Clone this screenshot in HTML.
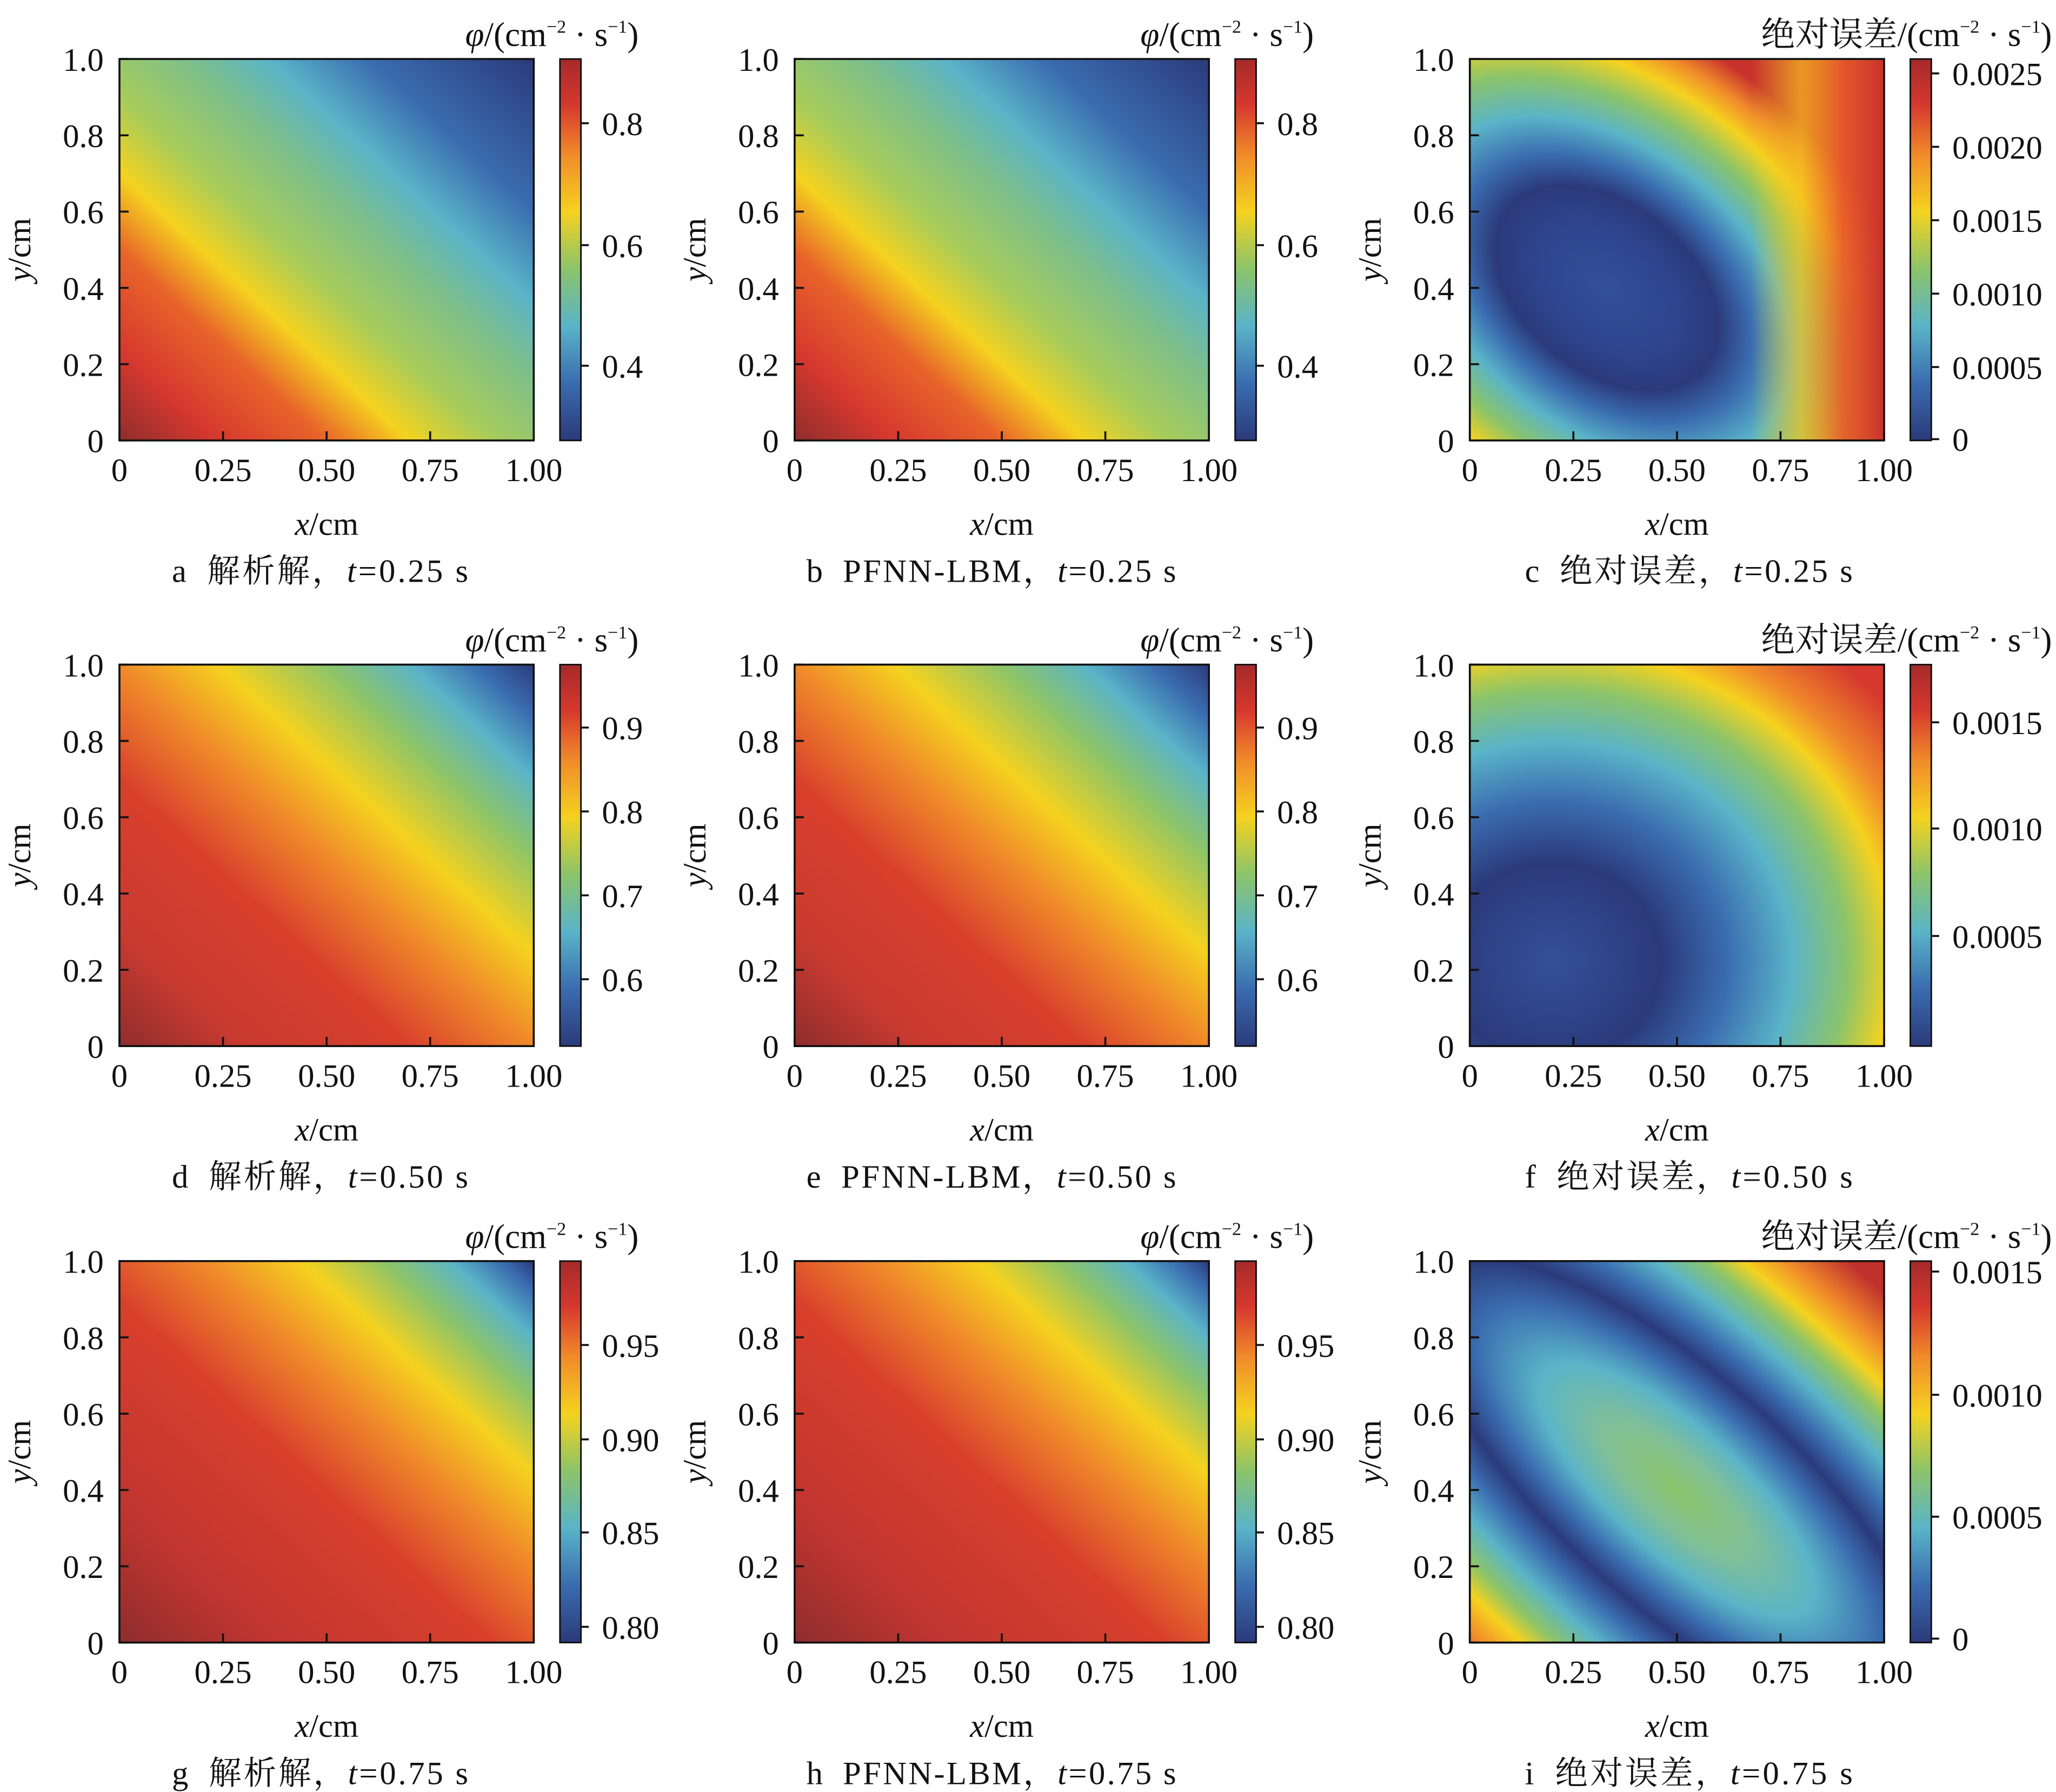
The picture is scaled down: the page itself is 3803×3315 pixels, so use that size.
<!DOCTYPE html>
<html><head><meta charset="utf-8">
<style>html,body{margin:0;padding:0;background:#fff}svg{display:block}
text{font-family:"Liberation Serif","Noto Serif CJK SC","Noto Sans CJK SC",serif;fill:#111}</style></head>
<body>
<svg id="s" xmlns="http://www.w3.org/2000/svg" width="3803" height="3315" viewBox="0 0 1568 1367">
<defs>
<linearGradient id="cb" x1="0" y1="1" x2="0" y2="0">
<stop offset="0" stop-color="#2b3a7a"/><stop offset="0.15" stop-color="#3a6cb0"/><stop offset="0.3" stop-color="#5ab4c8"/><stop offset="0.45" stop-color="#8cc46a"/><stop offset="0.6" stop-color="#f5d21f"/><stop offset="0.75" stop-color="#f08a2a"/><stop offset="0.88" stop-color="#d6382e"/><stop offset="1" stop-color="#a52a2a"/></linearGradient>
<linearGradient id="g1" x1="0" y1="1" x2="1" y2="0">
<stop offset="0" stop-color="#8e2d2d"/><stop offset="0.12" stop-color="#d6382e"/><stop offset="0.25" stop-color="#e8642a"/><stop offset="0.35" stop-color="#f5d21f"/><stop offset="0.45" stop-color="#a8cc5a"/><stop offset="0.58" stop-color="#7dbf8a"/><stop offset="0.68" stop-color="#5ab4c8"/><stop offset="0.8" stop-color="#3a6cb0"/><stop offset="1" stop-color="#2b3a7a"/></linearGradient>
<linearGradient id="g2" x1="0" y1="1" x2="1" y2="0">
<stop offset="0" stop-color="#8e2d2d"/><stop offset="0.15" stop-color="#c83a30"/><stop offset="0.35" stop-color="#d9402c"/><stop offset="0.5" stop-color="#f08a2a"/><stop offset="0.62" stop-color="#f5d21f"/><stop offset="0.75" stop-color="#8cc46a"/><stop offset="0.85" stop-color="#5ab4c8"/><stop offset="0.93" stop-color="#3a6cb0"/><stop offset="1" stop-color="#2b3a7a"/></linearGradient>
<linearGradient id="g3" x1="0" y1="1" x2="1" y2="0">
<stop offset="0" stop-color="#8e2d2d"/><stop offset="0.18" stop-color="#c03530"/><stop offset="0.45" stop-color="#d9402c"/><stop offset="0.6" stop-color="#f08a2a"/><stop offset="0.72" stop-color="#f5d21f"/><stop offset="0.82" stop-color="#8cc46a"/><stop offset="0.9" stop-color="#5ab4c8"/><stop offset="0.96" stop-color="#3a6cb0"/><stop offset="1" stop-color="#2b3a7a"/></linearGradient>
<radialGradient id="ec" cx="0.33" cy="0.6" r="0.64" gradientTransform="translate(0.33 0.6) rotate(45) scale(1.5 1) translate(-0.33 -0.6)">
<stop offset="0" stop-color="#33509a"/><stop offset="0.2" stop-color="#2e4590"/><stop offset="0.33" stop-color="#2b3a7a"/><stop offset="0.43" stop-color="#3a6cb0"/><stop offset="0.55" stop-color="#5ab4c8"/><stop offset="0.68" stop-color="#8cc46a"/><stop offset="0.8" stop-color="#f5d21f"/><stop offset="0.9" stop-color="#f08a2a"/><stop offset="1" stop-color="#c8322c"/></radialGradient>
<linearGradient id="ecO" x1="0" y1="0" x2="1" y2="0">
<stop offset="0.68" stop-color="#f5d21f" stop-opacity="0"/><stop offset="0.8" stop-color="#f5c21f" stop-opacity="0.7"/><stop offset="0.9" stop-color="#e85a2a" stop-opacity="0.9"/><stop offset="1" stop-color="#c8322c" stop-opacity="1"/></linearGradient>
<radialGradient id="ef" cx="0.2" cy="0.78" r="1.05">
<stop offset="0" stop-color="#34509a"/><stop offset="0.25" stop-color="#2b3a7a"/><stop offset="0.4" stop-color="#3a6cb0"/><stop offset="0.55" stop-color="#5ab4c8"/><stop offset="0.68" stop-color="#8cc46a"/><stop offset="0.78" stop-color="#f5d21f"/><stop offset="0.86" stop-color="#f08a2a"/><stop offset="1" stop-color="#d6382e"/></radialGradient>
<radialGradient id="ei" cx="0.5" cy="0.6" r="0.72" gradientTransform="translate(0.5 0.6) rotate(45) scale(2.8 1) translate(-0.5 -0.6)">
<stop offset="0" stop-color="#8cc46a"/><stop offset="0.12" stop-color="#7fbf9a"/><stop offset="0.22" stop-color="#5ab4c8"/><stop offset="0.32" stop-color="#3a6cb0"/><stop offset="0.4" stop-color="#2b3a7a"/><stop offset="0.48" stop-color="#3a6cb0"/><stop offset="0.58" stop-color="#5ab4c8"/><stop offset="0.68" stop-color="#8cc46a"/><stop offset="0.76" stop-color="#f5d21f"/><stop offset="0.86" stop-color="#f08a2a"/><stop offset="1" stop-color="#c0302c"/></radialGradient>
</defs>
<g id="root"></g>
</svg>
<script>
var R=document.getElementById("root"),out="";
var X0=[91,606,1121],Y0=[45,507,962],W=316,H=291;
var fills=[["url(#g1)","url(#g1)","url(#ec)"],["url(#g2)","url(#g2)","url(#ef)"],["url(#g3)","url(#g3)","url(#ei)"]];
var cbt=[[[0.8,94],[0.6,187],[0.4,279]],[[0.9,555],[0.8,619],[0.7,683],[0.6,747]],[["0.95",1026],["0.90",1098],["0.85",1169],["0.80",1241]]];
var ecbt=[[["0.0025",56],["0.0020",112],["0.0015",168],["0.0010",224],["0.0005",280],["0",335]],[["0.0015",551],["0.0010",632],["0.0005",714]],[["0.0015",970],["0.0010",1064],["0.0005",1157],["0",1250]]];
var caps=[["a","b","c"],["d","e","f"],["g","h","i"]],ts=["0.25","0.50","0.75"];
var capX=[40,9,42],capW=[226,282,250];
function t(x,y,s,a,fs,ex){out+='<text x="'+x+'" y="'+y+'" font-size="'+(fs||24)+'" text-anchor="'+(a||"middle")+'" '+(ex||"")+'>'+s+'</text>';}
for(var r=0;r<3;r++)for(var c=0;c<3;c++){
 var x=X0[c],y=Y0[r];
 out+='<rect x="'+x+'" y="'+y+'" width="'+W+'" height="'+H+'" fill="'+fills[r][c]+'"/>';
 if(r==0&&c==2) out+='<rect x="'+x+'" y="'+y+'" width="'+W+'" height="'+H+'" fill="url(#ecO)"/>';
 out+='<rect x="'+x+'" y="'+y+'" width="'+W+'" height="'+H+'" fill="none" stroke="#111" stroke-width="1.5"/>';
 var xl=["0","0.25","0.50","0.75","1.00"];
 for(var i=0;i<5;i++){var xx=x+W*i/4;out+='<line x1="'+xx+'" y1="'+(y+H)+'" x2="'+xx+'" y2="'+(y+H-7)+'" stroke="#111" stroke-width="1.5"/>';t(xx,y+H+31,xl[i],"middle",25);}
 var yl=["0","0.2","0.4","0.6","0.8","1.0"];
 for(var i=0;i<6;i++){var yy=y+H-H*i/5;out+='<line x1="'+x+'" y1="'+yy+'" x2="'+(x+7)+'" y2="'+yy+'" stroke="#111" stroke-width="1.5"/>';t(x-12,yy+9,yl[i],"end",25);}
 t(x+W/2,y+H+72,'<tspan font-style="italic">x</tspan>/cm',"middle",25);
 out+='<text x="0" y="0" font-size="25" text-anchor="middle" transform="translate('+(x-68)+','+(y+H/2)+') rotate(-90)"><tspan font-style="italic">y</tspan>/cm</text>';
 var cap=caps[r][c]+'\u2002'+(c==0?'解析解':c==1?'PFNN-LBM':'绝对误差')+'，<tspan font-style="italic">t</tspan>=' + ts[r]+' s';
 t(x+capX[c],y+H+108,cap,"start",25,'textLength="'+capW[c]+'" lengthAdjust="spacing"');
 var cx=x+336;
 out+='<rect x="'+cx+'" y="'+y+'" width="16" height="'+H+'" fill="url(#cb)" stroke="#111" stroke-width="1.2"/>';
 var tk=c<2?cbt[r]:ecbt[r];
 for(var i=0;i<tk.length;i++){var yy=tk[i][1];out+='<line x1="'+(cx+16)+'" y1="'+yy+'" x2="'+(cx+22)+'" y2="'+yy+'" stroke="#111" stroke-width="1.5"/>';t(cx+32,yy+9,tk[i][0],"start",25);}
 var ttl=(c<2?'<tspan font-style="italic">φ</tspan>':'绝对误差')+'/(cm<tspan font-size="14" dy="-10">−2</tspan><tspan dy="10"> · s</tspan><tspan font-size="14" dy="-10">−1</tspan><tspan dy="10">)</tspan>';
 t(c<2?x+396:1565,y-10,ttl,"end",26);
}
R.innerHTML=out;
</script>
</body></html>
